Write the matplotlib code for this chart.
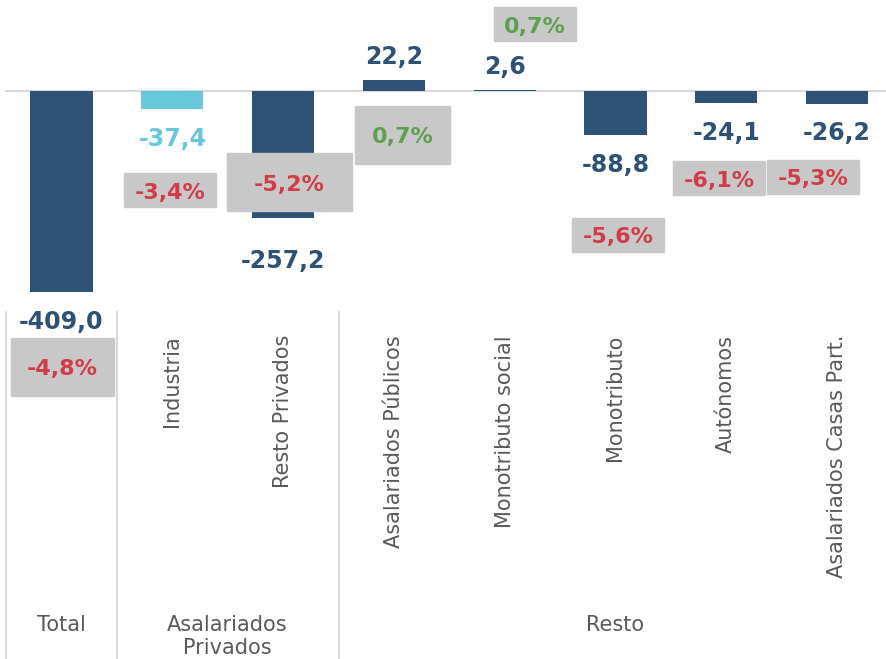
import matplotlib
matplotlib.use("Agg")
import matplotlib.pyplot as plt
from matplotlib.patches import Rectangle

plt.rcParams['font.family'] = ['DejaVu Sans']

# datos
categorias = ["Total", "Industria", "Resto Privados", "Asalariados Públicos",
              "Monotributo social", "Monotributo", "Autónomos", "Asalariados Casas Part."]
variacion = [-409.0, -37.4, -257.2, 22.2, 2.6, -88.8, -24.1, -26.2]
variacion_pct = [-4.8, -3.4, -5.2, 0.7, 0.7, -5.6, -6.1, -5.3]
grupos = ["Total", "Asalariados\nPrivados", "Resto"]

# colores
azul = "#2d5275"
celeste = "#68c8db"
rojo = "#d03c48"
verde = "#5e9f50"
gris_caja = "#c8c8c8"
gris_txt = "#595959"
gris_linea = "#d9d9d9"
colores = [azul, celeste, azul, azul, azul, azul, azul, azul]

W, H = 887, 659
fig = plt.figure(figsize=(W / 100, H / 100), dpi=100)

# eje principal: cero en y=91px, 0.4922 px por unidad, barras cada 110.8 px
ax = fig.add_axes([0, 0, 1, 1])
ax.set_xlim(-61.5 / 110.8, (W - 61.5) / 110.8)
ax.set_ylim((91 - H) / 0.4922, 91 / 0.4922)
ax.axis("off")

x = list(range(len(categorias)))
ax.axhline(0, xmin=6 / W, xmax=1, color=gris_linea, lw=1.5, zorder=1)
ax.bar(x, variacion, width=0.56, color=colores, zorder=2)

# etiquetas de valor (desplazamiento en px)
desp = [-37, -37, -50, 16, 16, -37, -37, -36]
for i, v in enumerate(variacion):
    txt = f"{v:.1f}".replace(".", ",")
    ax.annotate(txt, (i, v), xytext=(0, desp[i] * 0.72), textcoords="offset points",
                ha="center", va="baseline", fontsize=17, fontweight="bold",
                color=colores[i], zorder=4)

# capa en pixeles para cajas, separadores y textos
px = fig.add_axes([0, 0, 1, 1])
px.set_xlim(0, W)
px.set_ylim(H, 0)
px.axis("off")
px.patch.set_alpha(0)

for sx in [6, 117, 339]:
    px.plot([sx, sx], [312, H], color=gris_linea, lw=1.5)

# cajas de variacion porcentual (x0, y0, x1, y1)
cajas = [(11, 338, 114, 396), (124, 173, 216, 207), (227, 153, 352, 211),
         (355, 106, 450, 164), (494, 7, 576, 41), (572, 218, 664, 252),
         (673, 161, 765, 195), (767, 160, 859, 194)]
for (x0, y0, x1, y1), p in zip(cajas, variacion_pct):
    px.add_patch(Rectangle((x0, y0), x1 - x0, y1 - y0, color=gris_caja, zorder=5))
    txt = f"{p:.1f}%".replace(".", ",")
    px.text((x0 + x1) / 2, (y0 + y1) / 2 + 8.5, txt, ha="center", va="baseline",
            fontsize=16, fontweight="bold", color=rojo if p < 0 else verde, zorder=6)

# categorias rotadas
xcat = [61.5 + i * 110.8 for i in x]
for i, c in enumerate(categorias[1:], start=1):
    px.text(xcat[i], 335, c, rotation=90, ha="center", va="top",
            fontsize=15, color=gris_txt)

# grupos
gx = [61.5, 227, 615]
for g, gxx in zip(grupos, gx):
    px.text(gxx, 615, g, ha="center", va="top", fontsize=15, color=gris_txt,
            linespacing=1.2)

fig.savefig("out.png", dpi=100)
